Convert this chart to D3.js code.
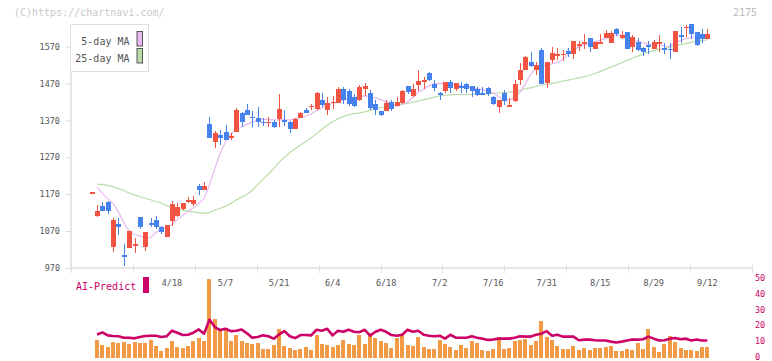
<!DOCTYPE html>
<html><head><meta charset="utf-8">
<script src="https://cdn.jsdelivr.net/npm/d3@7"></script>
<style>body{margin:0;background:#fff}svg{display:block}text{font-family:"DejaVu Sans Mono",monospace}</style>
</head><body><svg id="c" width="772" height="361"></svg>
<script>
// ---- data (index 0 .. 115, one per trading day) ----
const opens=[1175,1111,1138,1149,1028,1089,1005,1025,1031,1108,1028,1092,1100,1082,1055,1097,1111,1130,1150,1143,1192,1181,1360,1310,1329,1338,1323,1338,1390,1398,1380,1376,1366,1362,1366,1374,1371,1366,1347,1375,1398,1406,1401,1425,1398,1416,1417,1455,1450,1433,1425,1455,1443,1414,1395,1395,1420,1409,1418,1463,1436,1467,1475,1498,1469,1444,1450,1474,1455,1463,1469,1463,1455,1444,1458,1433,1405,1444,1405,1422,1479,1506,1528,1506,1561,1471,1534,1544,1547,1558,1550,1571,1580,1593,1563,1577,1593,1580,1617,1593,1609,1569,1582,1566,1574,1563,1580,1566,1564,1555,1601,1619,1631,1609,1604,1590];
const highs=[1175,1141,1148,1152,1106,1106,1035,1070,1050,1108,1067,1106,1110,1085,1087,1151,1145,1146,1162,1165,1198,1203,1380,1341,1345,1357,1336,1403,1393,1414,1396,1406,1375,1380,1371,1441,1398,1368,1376,1392,1403,1414,1447,1443,1433,1436,1460,1460,1455,1440,1465,1470,1452,1425,1395,1426,1425,1434,1452,1463,1468,1506,1487,1501,1479,1447,1474,1479,1471,1474,1471,1463,1460,1460,1460,1436,1425,1452,1430,1479,1525,1544,1555,1528,1566,1528,1569,1566,1561,1566,1585,1585,1604,1593,1582,1604,1615,1612,1620,1612,1609,1601,1593,1569,1585,1588,1601,1580,1580,1612,1623,1628,1631,1609,1617,1617];
const lows=[1175,1108,1125,1117,1013,1059,976,1025,1010,1075,1017,1080,1075,1062,1055,1084,1108,1128,1147,1139,1169,1180,1323,1296,1303,1318,1317,1338,1353,1385,1353,1353,1356,1353,1350,1353,1356,1336,1347,1375,1391,1398,1398,1407,1384,1401,1417,1414,1409,1405,1422,1436,1398,1384,1382,1395,1395,1409,1415,1441,1433,1450,1456,1477,1450,1424,1444,1444,1450,1444,1444,1433,1436,1439,1436,1411,1389,1411,1405,1419,1466,1506,1515,1493,1469,1458,1525,1534,1531,1542,1536,1558,1563,1555,1563,1577,1593,1580,1599,1590,1563,1555,1558,1544,1550,1563,1555,1550,1537,1555,1580,1596,1590,1571,1580,1590];
const closes=[1175,1124,1125,1125,1100,1082,1002,1070,1035,1082,1067,1087,1082,1068,1087,1143,1135,1146,1155,1154,1180,1192,1323,1336,1323,1318,1327,1398,1366,1385,1375,1366,1362,1366,1353,1401,1365,1347,1374,1390,1391,1409,1443,1412,1417,1420,1455,1425,1414,1409,1460,1462,1403,1398,1384,1417,1401,1420,1449,1448,1455,1477,1479,1479,1458,1438,1474,1458,1471,1458,1455,1450,1439,1439,1441,1413,1425,1422,1412,1469,1506,1542,1517,1520,1469,1528,1552,1550,1550,1550,1585,1577,1582,1569,1582,1582,1607,1607,1604,1601,1563,1596,1561,1555,1569,1582,1582,1561,1561,1612,1599,1623,1604,1574,1590,1604];
const ma5=[null,1189,1172,1158,1145,1122,1093,1070,1060,1057,1051,1052,1066,1075,1081,1088,1101,1113,1124,1133,1145,1158,1195,1240,1280,1312,1333,1345,1352,1359,1366,1370,1373,1372,1371,1371,1371,1371,1374,1377,1381,1388,1396,1404,1410,1415,1421,1424,1429,1431,1434,1436,1434,1431,1426,1420,1414,1408,1413,1420,1432,1446,1455,1464,1469,1470,1470,1468,1466,1464,1461,1458,1456,1453,1450,1445,1433,1428,1425,1432,1446,1468,1495,1510,1517,1520,1523,1527,1534,1549,1560,1569,1574,1578,1583,1587,1592,1596,1601,1601,1599,1591,1585,1580,1577,1574,1573,1572,1570,1582,1586,1592,1594,1597,1598,1599];
const ma25=[null,1197,1196,1194,1190,1185,1180,1173,1168,1163,1159,1155,1150,1146,1139,1134,1130,1126,1124,1122,1120,1118,1120,1127,1132,1137,1145,1154,1162,1170,1180,1195,1210,1224,1240,1256,1270,1282,1293,1303,1313,1323,1334,1346,1357,1366,1374,1380,1385,1388,1390,1393,1397,1401,1404,1407,1410,1412,1414,1416,1419,1422,1426,1429,1433,1436,1438,1439,1440,1440,1440,1440,1441,1441,1442,1443,1444,1445,1446,1448,1451,1455,1458,1462,1465,1467,1470,1473,1476,1479,1482,1485,1488,1492,1497,1502,1508,1514,1520,1526,1532,1538,1544,1550,1555,1559,1562,1565,1569,1572,1575,1578,1581,1584,1586,1588];
const volume=[0,113,82,69,101,94,101,88,101,94,94,113,75,44,63,107,69,63,75,107,126,107,497,245,176,189,107,145,107,94,88,94,57,57,82,182,75,63,50,57,69,50,145,88,82,69,82,113,88,82,145,88,157,126,107,94,63,126,151,82,75,132,69,57,57,113,88,69,50,82,63,107,94,50,44,57,132,57,63,107,113,119,82,107,233,132,113,75,57,57,75,50,63,50,63,63,69,75,44,44,57,50,94,57,182,69,38,88,138,101,63,50,50,44,69,69];
const aiPredict=[null,14.0,15.3,13.4,13.0,12.8,11.9,11.9,11.5,12.4,13.0,13.2,13.2,12.4,12.8,16.4,15.1,13.6,13.8,15.1,17.2,14.5,23.5,18.7,16.8,17.6,16.1,16.4,17.2,14.7,11.9,12.4,13.4,12.8,11.3,14.0,16.1,12.8,11.7,13.6,13.6,13.4,17.0,16.4,17.6,13.4,16.4,15.7,17.0,15.7,15.5,17.0,13.2,15.7,17.0,15.7,13.6,13.2,13.8,17.0,15.7,16.4,13.8,13.2,12.8,13.2,11.3,13.8,11.9,11.9,11.9,12.8,11.9,11.3,10.5,10.7,11.3,11.3,11.3,11.9,12.8,12.6,12.6,13.8,14.5,16.1,13.2,13.8,12.6,12.6,12.6,10.3,10.7,10.7,10.3,10.1,10.1,9.4,8.8,9.4,10.1,10.7,10.7,10.9,12.6,11.3,10.1,10.3,11.3,11.7,10.9,11.3,10.1,10.7,10.1,10.1];
const dateLabels=["4/18","5/7","5/21","6/4","6/18","7/2","7/16","7/31","8/15","8/29","9/12"];
const dateLabelIndex=[15,25,35,45,55,65,75,85,95,105,115];
const priceTicks=[970,1070,1170,1270,1370,1470,1570];
const aiTicks=[0,10,20,30,40,50];
const legendLabels=["5-day MA","25-day MA"];

// ---- drawing ----
const RED="#f25441", BLUE="#4582ee", ORANGE="#f29a45", CRIMSON="#cc0066";
const PINK="#e8b8f0", GREEN="#b8dca8", GRID="#dedede", TXT="#555";
const svg=d3.select("#c");
const idx=d3.range(opens.length);
const x=d3.scaleLinear([0,opens.length-1],[91.7,707.3]);
const y=d3.scaleLinear([970,1570],[268,46.5]);
const grid=d3.scaleLinear([0,11],[71,752]);
const yAI=d3.scaleLinear([0,50],[356.3,278.2]);
const yVol=d3.scaleLinear([0,500],[358,278.5]);

// watermark & code
svg.append("text").attr("x",14).attr("y",16).attr("font-size",10).attr("fill","#c8c8c8").text("(C)https://chartnavi.com/");
svg.append("text").attr("x",757).attr("y",16).attr("font-size",10).attr("fill","#bbb").attr("text-anchor","end").text("2175");

// left axis
svg.append("line").attr("x1",71).attr("x2",71).attr("y1",24).attr("y2",268).attr("stroke",GRID).attr("stroke-width",1.5);
const ya=svg.append("g").attr("transform","translate(71,0)").call(d3.axisLeft(y).tickValues(priceTicks).tickSize(6).tickPadding(5).tickFormat(d3.format("d")));
ya.select(".domain").remove();
ya.selectAll("line").attr("stroke",GRID);
ya.selectAll("text").attr("font-size",8.5).attr("fill",TXT).attr("font-family","DejaVu Sans Mono");

// bottom axis line + grid ticks
svg.append("line").attr("x1",71).attr("x2",752).attr("y1",268).attr("y2",268).attr("stroke",GRID).attr("stroke-width",1.5);
svg.append("g").selectAll("line").data(grid.ticks(11)).join("line")
  .attr("x1",d=>Math.round(grid(d))+0.5).attr("x2",d=>Math.round(grid(d))+0.5)
  .attr("y1",265).attr("y2",273).attr("stroke",GRID).attr("stroke-width",1);
svg.append("g").selectAll("text").data(dateLabels).join("text")
  .attr("x",(d,i)=>x(dateLabelIndex[i])).attr("y",286).attr("text-anchor","middle")
  .attr("font-size",8.5).attr("fill",TXT).text(d=>d);

// volume bars
svg.append("g").selectAll("rect").data(idx.filter(i=>volume[i]>0)).join("rect")
  .attr("x",i=>Math.round(x(i))-2).attr("width",4)
  .attr("y",i=>yVol(volume[i])).attr("height",i=>yVol(0)-yVol(volume[i]))
  .attr("fill",ORANGE).attr("shape-rendering","crispEdges");

// AI predict line
svg.append("path").datum(idx).attr("fill","none").attr("stroke",CRIMSON).attr("stroke-width",2.6)
  .attr("stroke-linejoin","round")
  .attr("d",d3.line().defined(i=>aiPredict[i]!=null).x(i=>x(i)).y(i=>yAI(aiPredict[i])));

// right axis (AI)
const ra=svg.append("g").attr("transform","translate(755,0)").call(d3.axisRight(yAI).tickValues(aiTicks).tickSize(0).tickPadding(0));
ra.select(".domain").remove();
ra.selectAll("text").attr("font-size",8.5).attr("fill",CRIMSON).attr("font-family","DejaVu Sans Mono");

// AI legend
svg.append("text").attr("x",76).attr("y",290).attr("font-size",10).attr("fill",CRIMSON).text("AI-Predict");
svg.append("rect").attr("x",143).attr("y",277).attr("width",6).attr("height",16).attr("fill",CRIMSON);

// moving averages
const maLine=arr=>d3.line().defined(i=>arr[i]!=null).x(i=>x(i)).y(i=>y(arr[i]));
svg.append("path").datum(idx).attr("fill","none").attr("stroke",GREEN).attr("stroke-width",1.2).attr("d",maLine(ma25));
svg.append("path").datum(idx).attr("fill","none").attr("stroke",PINK).attr("stroke-width",1.2).attr("d",maLine(ma5));

// candles
const cg=svg.append("g").attr("shape-rendering","crispEdges");
const col=i=>closes[i]>=opens[i]?RED:BLUE;
cg.selectAll("line").data(idx).join("line")
  .attr("x1",i=>Math.round(x(i))+0.5).attr("x2",i=>Math.round(x(i))+0.5)
  .attr("y1",i=>y(highs[i])).attr("y2",i=>y(lows[i])).attr("stroke",col).attr("stroke-width",1);
cg.selectAll("rect").data(idx).join("rect")
  .attr("x",i=>Math.round(x(i))-2).attr("width",5)
  .attr("y",i=>y(Math.max(opens[i],closes[i])))
  .attr("height",i=>Math.max(1.5,Math.abs(y(opens[i])-y(closes[i]))))
  .attr("fill",col);

// legend box
const lg=svg.append("g");
lg.append("rect").attr("x",70.5).attr("y",24.5).attr("width",78).attr("height",47).attr("fill","#fff").attr("stroke",GRID);
const swatch=[PINK,GREEN];
legendLabels.forEach((t,i)=>{
  lg.append("text").attr("x",129.5).attr("y",45+i*17).attr("text-anchor","end").attr("font-size",10).attr("fill",TXT).text(t);
  lg.append("rect").attr("x",137).attr("y",31.5+i*17).attr("width",5.5).attr("height",14.5).attr("fill",swatch[i]).attr("stroke","#555").attr("stroke-width",1);
});
</script></body></html>
